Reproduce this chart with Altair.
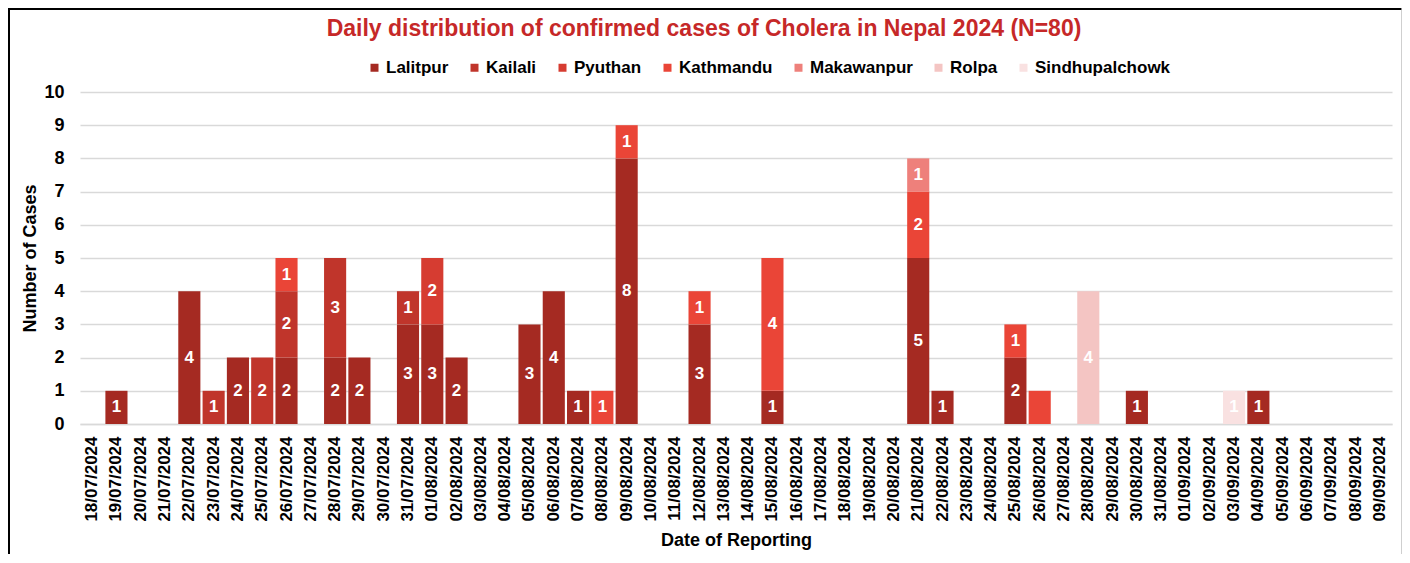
import altair as alt
import pandas as pd

FONT = "Liberation Sans"

dates = [
    "18/07/2024", "19/07/2024", "20/07/2024", "21/07/2024", "22/07/2024", "23/07/2024",
    "24/07/2024", "25/07/2024", "26/07/2024", "27/07/2024", "28/07/2024", "29/07/2024",
    "30/07/2024", "31/07/2024", "01/08/2024", "02/08/2024", "03/08/2024", "04/08/2024",
    "05/08/2024", "06/08/2024", "07/08/2024", "08/08/2024", "09/08/2024", "10/08/2024",
    "11/08/2024", "12/08/2024", "13/08/2024", "14/08/2024", "15/08/2024", "16/08/2024",
    "17/08/2024", "18/08/2024", "19/08/2024", "20/08/2024", "21/08/2024", "22/08/2024",
    "23/08/2024", "24/08/2024", "25/08/2024", "26/08/2024", "27/08/2024", "28/08/2024",
    "29/08/2024", "30/08/2024", "31/08/2024", "01/09/2024", "02/09/2024", "03/09/2024",
    "04/09/2024", "05/09/2024", "06/09/2024", "07/09/2024", "08/09/2024", "09/09/2024",
]

districts = ["Lalitpur", "Kailali", "Pyuthan", "Kathmandu", "Makawanpur", "Rolpa", "Sindhupalchowk"]
colors = ["#A52A22", "#C0352B", "#D63C31", "#EA4537", "#EE807B", "#F4C5C3", "#F9E1E1"]

y_ticks = [0, 1, 2, 3, 4, 5, 6, 7, 8, 9, 10]

# stacked segments (date, district, cases, label shown)
seg_date = [
    "19/07/2024", "22/07/2024", "23/07/2024", "24/07/2024", "25/07/2024",
    "26/07/2024", "26/07/2024", "26/07/2024",
    "28/07/2024", "28/07/2024", "29/07/2024",
    "31/07/2024", "31/07/2024", "01/08/2024", "01/08/2024", "02/08/2024",
    "05/08/2024", "06/08/2024", "07/08/2024", "08/08/2024",
    "09/08/2024", "09/08/2024", "12/08/2024", "12/08/2024",
    "15/08/2024", "15/08/2024",
    "21/08/2024", "21/08/2024", "21/08/2024", "22/08/2024",
    "25/08/2024", "25/08/2024", "26/08/2024", "28/08/2024",
    "30/08/2024", "03/09/2024", "04/09/2024",
]
seg_district = [
    "Lalitpur", "Lalitpur", "Kailali", "Lalitpur", "Kailali",
    "Lalitpur", "Kailali", "Kathmandu",
    "Lalitpur", "Kailali", "Lalitpur",
    "Lalitpur", "Kailali", "Lalitpur", "Pyuthan", "Lalitpur",
    "Lalitpur", "Lalitpur", "Lalitpur", "Kathmandu",
    "Lalitpur", "Kathmandu", "Lalitpur", "Kathmandu",
    "Lalitpur", "Kathmandu",
    "Lalitpur", "Kathmandu", "Makawanpur", "Lalitpur",
    "Lalitpur", "Kathmandu", "Kathmandu", "Rolpa",
    "Lalitpur", "Sindhupalchowk", "Lalitpur",
]
seg_cases = [
    1, 4, 1, 2, 2,
    2, 2, 1,
    2, 3, 2,
    3, 1, 3, 2, 2,
    3, 4, 1, 1,
    8, 1, 3, 1,
    1, 4,
    5, 2, 1, 1,
    2, 1, 1, 4,
    1, 1, 1,
]
seg_show = [
    True, True, True, True, True,
    True, True, True,
    True, True, True,
    True, True, True, True, True,
    True, True, True, True,
    True, True, True, True,
    True, True,
    True, True, True, True,
    True, True, False, True,
    True, True, True,
]

df = pd.DataFrame({"date": seg_date, "district": seg_district, "cases": seg_cases, "show": seg_show})
df["rank"] = df["district"].map({d: i for i, d in enumerate(districts)})
df["didx"] = df["date"].map({d: i for i, d in enumerate(dates)})
df = df.sort_values(["didx", "rank"]).reset_index(drop=True)
df["top"] = df.groupby("date")["cases"].cumsum()
df["mid"] = df["top"] - df["cases"] / 2

y_scale = alt.Scale(domain=[0, 10], nice=False)

x_scale = alt.Scale(domain=dates, paddingInner=0.09, paddingOuter=0.045)
x_axis = alt.Axis(
    title="Date of Reporting",
    labelAngle=270,
    labelFont=FONT,
    labelFontSize=17,
    labelFontWeight="bold",
    labelColor="#000000",
    labelPadding=12,
    ticks=False,
    domainColor="#D9D9D9",
    domainWidth=1.5,
    titleFont=FONT,
    titleFontSize=18,
    titleFontWeight="bold",
    titleColor="#000000",
    titlePadding=10,
    labelOverlap=False,
)
y_axis = alt.Axis(
    title="Number of Cases",
    values=y_ticks,
    grid=True,
    gridColor="#D9D9D9",
    gridWidth=1.5,
    domain=False,
    ticks=False,
    labelOverlap=False,
    labelFont=FONT,
    labelFontSize=18,
    labelFontWeight="bold",
    labelColor="#000000",
    labelPadding=16,
    titleFont=FONT,
    titleFontSize=18,
    titleFontWeight="bold",
    titleColor="#000000",
    titlePadding=4,
)

bars = alt.Chart(df).mark_bar().encode(
    x=alt.X("date:N", sort=dates, scale=x_scale, axis=x_axis),
    y=alt.Y("cases:Q", stack="zero", scale=y_scale, axis=y_axis),
    color=alt.Color(
        "district:N",
        scale=alt.Scale(domain=districts, range=colors),
        legend=alt.Legend(
            orient="none",
            legendX=286,
            legendY=-33,
            direction="horizontal",
            title=None,
            symbolType="square",
            symbolSize=64,
            symbolStrokeWidth=0,
            labelFont=FONT,
            labelFontSize=17,
            labelFontWeight="bold",
            labelColor="#000000",
            columnPadding=17,
            labelOffset=3,
        ),
    ),
    order=alt.Order("rank:Q", sort="ascending"),
)

labels = alt.Chart(df[df["show"]]).mark_text(
    color="white", font=FONT, fontSize=17, fontWeight="bold", baseline="middle", align="center"
).encode(
    x=alt.X("date:N", sort=dates, scale=x_scale, axis=x_axis),
    y=alt.Y("mid:Q", stack=None, scale=y_scale, axis=y_axis),
    text=alt.Text("cases:Q"),
)

frame = pd.DataFrame({"k": [0]})
top_rule = alt.Chart(frame).mark_rule(color="#000000", strokeWidth=2).encode(
    x=alt.value(-72), x2=alt.value(1330), y=alt.value(-83)
)
left_rule = alt.Chart(frame).mark_rule(color="#000000", strokeWidth=2).encode(
    x=alt.value(-71), y=alt.value(-84), y2=alt.value(470)
)
right_rule = alt.Chart(frame).mark_rule(color="#BFBFBF", strokeWidth=1.5).encode(
    x=alt.value(1322), y=alt.value(-84), y2=alt.value(470)
)

chart = alt.layer(bars, labels, top_rule, left_rule, right_rule).properties(
    width=1312,
    height=332,
    padding={"left": 72, "top": 84, "right": 10, "bottom": 130},
    autosize=alt.AutoSizeParams(type="none"),
    title=alt.TitleParams(
        "Daily distribution of confirmed cases of Cholera in Nepal 2024 (N=80)",
        font=FONT,
        fontSize=23,
        fontWeight="bold",
        color="#C62828",
        anchor="middle",
        dx=-32,
        dy=38,
        frame="group",
    ),
).configure(
    background="white",
    view=alt.ViewConfig(stroke="transparent", strokeWidth=0),
)

chart.save("out.html", embed_options={"renderer": "svg", "actions": False})
